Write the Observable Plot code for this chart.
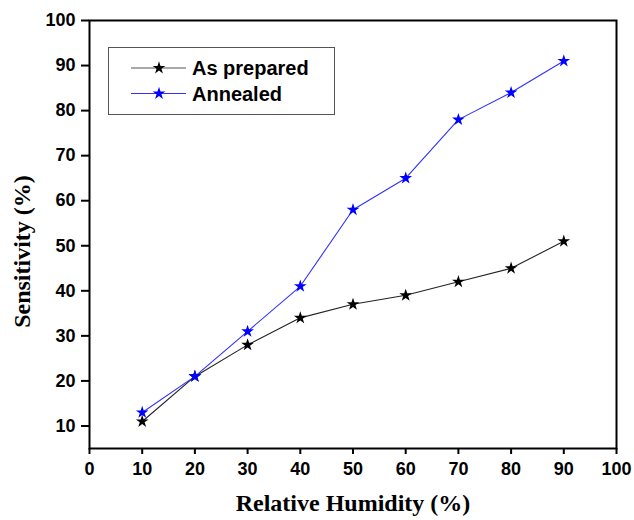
<!DOCTYPE html>
<html>
<head>
<meta charset="utf-8">
<script src="https://cdn.jsdelivr.net/npm/d3@7"></script>
<script src="https://cdn.jsdelivr.net/npm/@observablehq/plot@0.6"></script>
<style>
  html, body { margin: 0; padding: 0; background: #fff; }
  #wrap { position: relative; width: 634px; height: 520px; }
  #wrap svg g[aria-label$="tick label"] { font-size: 18px; font-weight: bold; font-family: "Liberation Sans", Arial, sans-serif; }
  #legend { position: absolute; left: 108px; top: 47px; width: 227px; height: 68px;
            border: 1px solid #555; box-sizing: border-box; background: #fff; }
</style>
</head>
<body>
<div id="wrap"></div>
<script>
const humidity = [10, 20, 30, 40, 50, 60, 70, 80, 90];
const asPrepared = [11, 21, 28, 34, 37, 39, 42, 45, 51];
const annealed = [13, 21, 31, 41, 58, 65, 78, 84, 91];
const seriesNames = ["As prepared", "Annealed"];
const seriesColors = ["#000000", "#0000ff"];
const lineColors = ["#222222", "#3030ff"];
const xTicks = [0, 10, 20, 30, 40, 50, 60, 70, 80, 90, 100];
const yTicks = [10, 20, 30, 40, 50, 60, 70, 80, 90, 100];

const data = [];
humidity.forEach((h, i) => {
  data.push({x: h, y: asPrepared[i], s: seriesNames[0]});
  data.push({x: h, y: annealed[i], s: seriesNames[1]});
});

const chart = Plot.plot({
  width: 634,
  height: 520,
  marginLeft: 89,
  marginRight: 18,
  marginTop: 20,
  marginBottom: 72,
  style: {fontFamily: "Liberation Sans, Arial, sans-serif", fontWeight: "bold", fontSize: "18px", color: "#000", background: "#fff"},
  x: {domain: [0, 100]},
  y: {domain: [5, 100]},
  marks: [
    Plot.frame({stroke: "#000", strokeWidth: 2}),
    Plot.axisX({ticks: xTicks, tickSize: 6, tickPadding: 8, tickFormat: d => d, label: null, strokeWidth: 2}),
    Plot.axisY({ticks: yTicks, tickSize: 8, tickPadding: 6, tickFormat: d => d, label: null, strokeWidth: 2}),
    Plot.line(data, {x: "x", y: "y", z: "s", stroke: d => d.s === seriesNames[0] ? lineColors[0] : lineColors[1], strokeWidth: 1.1}),
    Plot.dot(data, {x: "x", y: "y", symbol: "star", r: 4, fill: d => d.s === seriesNames[0] ? seriesColors[0] : seriesColors[1], stroke: "none"}),
    Plot.text(["Relative Humidity (%)"], {frameAnchor: "bottom", dy: 62, fontFamily: "Liberation Serif, Times New Roman, serif", fontWeight: "bold", fontSize: 24, fill: "#000"}),
    Plot.text(["Sensitivity (%)"], {frameAnchor: "left", textAnchor: "middle", dx: -67, dy: 17, rotate: -90, fontFamily: "Liberation Serif, Times New Roman, serif", fontWeight: "bold", fontSize: 24, fill: "#000"})
  ]
});
chart.style.display = "block";
document.getElementById("wrap").appendChild(chart);

// Legend overlay
const legend = document.createElement("div");
legend.id = "legend";
const lsvg = d3.create("svg").attr("width", 225).attr("height", 66);
const star = d3.symbol(d3.symbolStar, 4 * 4 * Math.PI)();
seriesNames.forEach((name, i) => {
  const g = lsvg.append("g").attr("transform", `translate(0,${20 + i * 25.5})`);
  g.append("line").attr("x1", 22).attr("x2", 77).attr("y1", 0).attr("y2", 0)
    .attr("stroke", i === 0 ? "#555" : "#3030ff").attr("stroke-width", 1.1);
  g.append("path").attr("d", star).attr("transform", "translate(50,0)").attr("fill", seriesColors[i]);
  g.append("text").attr("x", 83).attr("y", 0).attr("dy", "0.35em")
    .attr("font-family", "Liberation Sans, Arial, sans-serif").attr("font-weight", "bold")
    .attr("font-size", 20).attr("fill", "#000").text(name);
});
legend.appendChild(lsvg.node());
document.getElementById("wrap").appendChild(legend);
</script>
</body>
</html>
